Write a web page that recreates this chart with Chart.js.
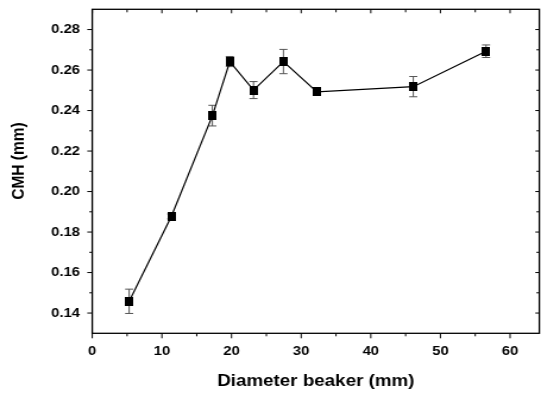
<!DOCTYPE html>
<html>
<head>
<meta charset="utf-8">
<script src="https://cdn.jsdelivr.net/npm/chart.js@4"></script>
<style>
  html, body { margin: 0; padding: 0; background: #fff; }
  #c { display: block; }
</style>
</head>
<body>
<!-- the source figure is stretched sideways, so draw narrow and stretch -->
<canvas id="c" width="455" height="394" style="width:541px;height:394px"></canvas>
<script>
/* ---- data -------------------------------------------------------------- */
const diameter = [5.3, 11.35, 17.25, 19.75, 23.15, 27.45, 32.25, 46.1, 56.55];
const cmh      = [0.1458, 0.1877, 0.2375, 0.2642, 0.2501, 0.2642, 0.2492, 0.2518, 0.2693];
const cmhErr   = [0.0060, 0.0012, 0.0051, 0.0025, 0.0042, 0.0060, 0.0009, 0.0050, 0.0031];

const xTickLabels = [0, 10, 20, 30, 40, 50, 60];
const yTickLabels = ['0.14', '0.16', '0.18', '0.20', '0.22', '0.24', '0.26', '0.28'];
const xTitle = 'Diameter beaker (mm)';
const yTitle = 'CMH (mm)';

const FONT = '"Liberation Sans", Arial, sans-serif';

/* ---- square marker (a bit narrower, the page stretch widens it) -------- */
const marker = document.createElement('canvas');
marker.width = 7; marker.height = 9;
const mctx = marker.getContext('2d');
mctx.fillStyle = '#000';
mctx.fillRect(0, 0, 7, 9);

/* ---- error bars, drawn under the markers ------------------------------- */
const errorBars = {
  id: 'errorBars',
  beforeDatasetsDraw(chart) {
    const { ctx, scales: { x, y } } = chart;
    ctx.save();
    ctx.strokeStyle = '#555';
    ctx.lineWidth = 1;
    diameter.forEach((d, i) => {
      const px  = x.getPixelForValue(d);
      const top = y.getPixelForValue(cmh[i] + cmhErr[i]);
      const bot = y.getPixelForValue(cmh[i] - cmhErr[i]);
      ctx.beginPath();
      ctx.moveTo(px, top);       ctx.lineTo(px, bot);
      ctx.moveTo(px - 3.4, top); ctx.lineTo(px + 3.4, top);
      ctx.moveTo(px - 3.4, bot); ctx.lineTo(px + 3.4, bot);
      ctx.stroke();
    });
    ctx.restore();
  }
};

/* ---- box frame with ticks on all four sides + y title ------------------ */
const frame = {
  id: 'frame',
  afterDraw(chart) {
    const { ctx, chartArea: { left, right, top, bottom }, scales: { x, y } } = chart;
    ctx.save();
    ctx.strokeStyle = '#000';
    ctx.lineWidth = 1.3;
    ctx.strokeRect(left, top, right - left, bottom - top);

    ctx.lineWidth = 1;
    ctx.beginPath();
    for (let v = 0; v <= 60; v += 5) {
      const major = v % 10 === 0;
      const px = x.getPixelForValue(v);
      ctx.moveTo(px, bottom); ctx.lineTo(px, bottom + (major ? 5 : 3));
      ctx.moveTo(px, top);    ctx.lineTo(px, top + (major ? 4 : 3));
    }
    for (let k = 14; k <= 28; k++) {
      const major = k % 2 === 0;
      const py = y.getPixelForValue(k / 100);
      ctx.moveTo(left, py);  ctx.lineTo(left - (major ? 4.2 : 2.5), py);
      ctx.moveTo(right, py); ctx.lineTo(right - (major ? 3.4 : 2.5), py);
    }
    ctx.stroke();

    // y title sits a little above the middle in the source
    ctx.translate(16, 161);
    ctx.rotate(-Math.PI / 2);
    ctx.fillStyle = '#000';
    ctx.font = `bold 15.5px ${FONT}`;
    ctx.textAlign = 'center';
    ctx.textBaseline = 'middle';
    ctx.fillText(yTitle, 0, 0);
    ctx.restore();
  }
};

const tickFont = { family: FONT, weight: 'bold', size: 12.5 };

new Chart(document.getElementById('c'), {
  type: 'scatter',
  data: {
    datasets: [{
      data: diameter.map((d, i) => ({ x: d, y: cmh[i] })),
      showLine: true,
      borderColor: '#000',
      borderWidth: 1.2,
      pointStyle: marker,
      pointRadius: 5,
      tension: 0
    }]
  },
  options: {
    responsive: false,
    devicePixelRatio: 1,
    animation: false,
    events: [],
    layout: { autoPadding: false, padding: { left: 0, right: 1.4, top: 9.3, bottom: 0 } },
    plugins: { legend: { display: false }, tooltip: { enabled: false } },
    scales: {
      x: {
        type: 'linear', min: 0, max: 64.2,
        afterBuildTicks: s => { s.ticks = xTickLabels.map(v => ({ value: v })); },
        afterFit: s => { s.height = 60.7; s.paddingLeft = 0; s.paddingRight = 0; },
        grid: { display: false, drawTicks: false },
        border: { display: false },
        ticks: {
          autoSkip: false, maxRotation: 0, padding: 11,
          color: '#000', font: tickFont,
          callback: v => String(v)
        },
        title: {
          display: true, text: xTitle, color: '#000',
          font: { family: FONT, weight: 'bold', size: 15.8 },
          padding: { top: 0, bottom: 3 }
        }
      },
      y: {
        type: 'linear', min: 0.13, max: 0.29,
        afterBuildTicks: s => { s.ticks = yTickLabels.map(t => ({ value: Number(t) })); },
        afterFit: s => { s.width = 77.6; s.paddingTop = 0; s.paddingBottom = 0; },
        grid: { display: false, drawTicks: false },
        border: { display: false },
        ticks: {
          autoSkip: false, padding: 10.3,
          color: '#000', font: tickFont,
          callback: v => v.toFixed(2)
        }
      }
    }
  },
  plugins: [errorBars, frame]
});
</script>
</body>
</html>
